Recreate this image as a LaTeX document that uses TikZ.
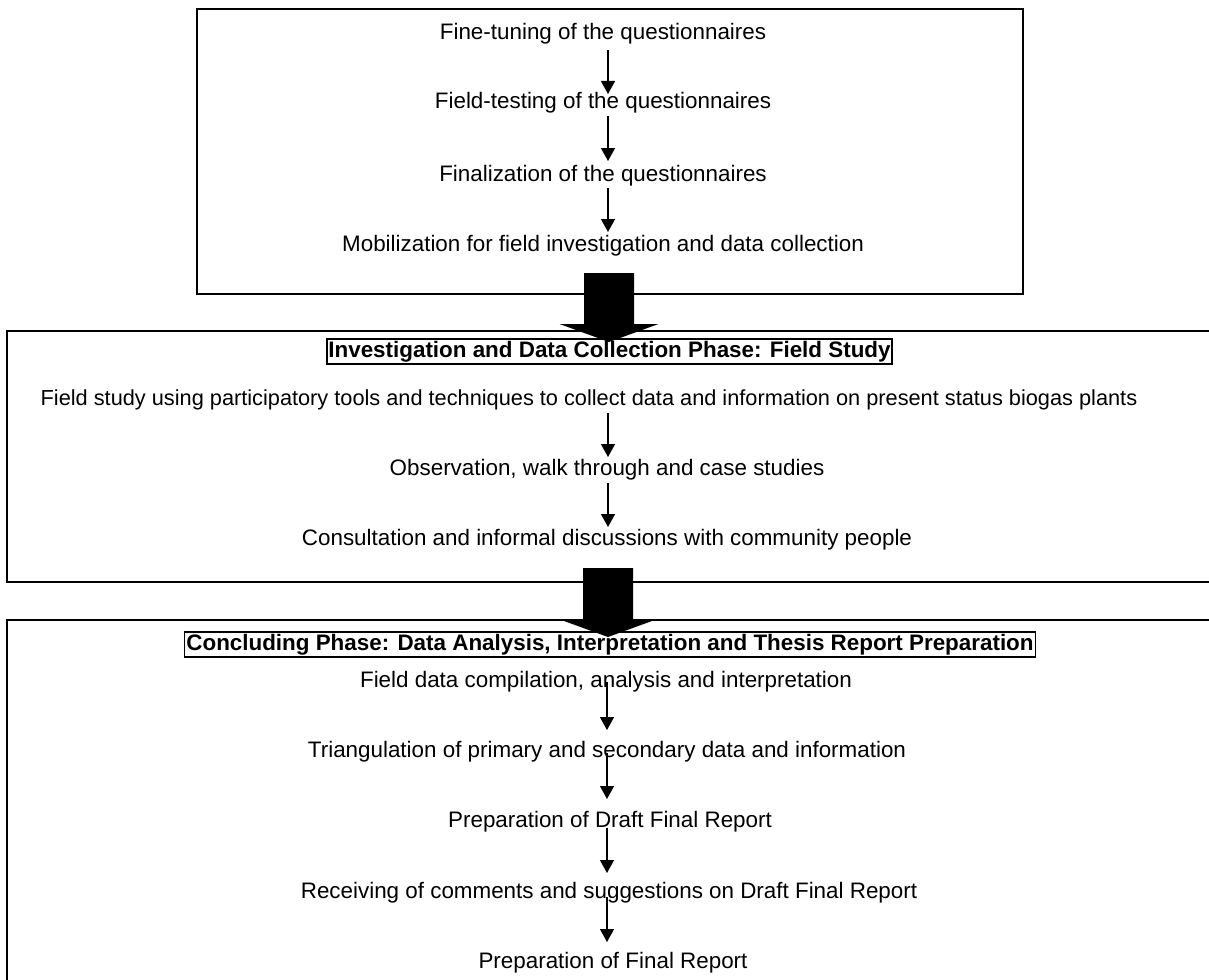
\documentclass[tikz,border=0pt]{standalone}
\usepackage{fontspec}
\setmainfont{Liberation Sans}
\usetikzlibrary{arrows.meta,calc}
\begin{document}
\begin{tikzpicture}[x=1pt,y=-1pt,
  txt/.style={anchor=base,inner sep=0pt,font=\fontsize{22.4}{27}\selectfont},
  hdr/.style={anchor=base,draw,line width=1.2pt,inner sep=1.5pt,font=\fontsize{22.4}{27}\selectfont\bfseries,text height=16.5pt,text depth=5.5pt},
  frame/.style={draw,line width=1.7pt,inner sep=0pt},
  arr/.style={line width=1.3pt,-{Triangle[width=14pt,length=13pt]}},
  bigarrow/.pic={\fill[black] (-25,0) -- (25,0) -- (25,51) -- (49.5,51) -- (0,69) -- (-49.5,51) -- (-25,51) -- cycle;}]
\useasboundingbox (0,0) rectangle (1209,979);
\clip (0,0) rectangle (1209,979);
\fill[white] (0,0) rectangle (1209,979);
% frames
\node[frame,minimum width=826pt,minimum height=285pt] (topbox) at (610,151.5) {};
\node[frame,minimum width=1230pt,minimum height=251pt] (midbox) at (622,456.5) {};
\node[frame,minimum width=1230pt,minimum height=400pt] (botbox) at (622,820) {};
% arrow columns
\coordinate (ax) at (608,0);
\coordinate (bx) at (607,0);
% top box texts
\node[txt] (t1) at (603,40) {Fine-tuning of the questionnaires};
\node[txt] (t2) at (603,109) {Field-testing of the questionnaires};
\node[txt] (t3) at (603,181) {Finalization of the questionnaires};
\node[txt] (t4) at (603,251) {Mobilization for field investigation and data collection};
\draw[arr] ($(t1.base -| ax)+(0,10)$) -- ($(t2.base -| ax)+(0,-15)$);
\draw[arr] ($(t2.base -| ax)+(0,7)$) -- ($(t3.base -| ax)+(0,-20)$);
\draw[arr] ($(t3.base -| ax)+(0,7)$) -- ($(t4.base -| ax)+(0,-19)$);
% middle box texts
\node[hdr] (h1) at (609.5,357) {Investigation and Data Collection Phase: Field Study};
\node[txt,font=\fontsize{21.75}{26}\selectfont] (m1) at (589,405) {Field study using participatory tools and techniques to collect data and information on present status biogas plants};
\node[txt] (m2) at (607,475) {Observation, walk through and case studies};
\node[txt] (m3) at (607,545) {Consultation and informal discussions with community people};
\draw[arr] ($(m1.base -| ax)+(0,8)$) -- ($(m2.base -| ax)+(0,-18)$);
\draw[arr] ($(m2.base -| ax)+(0,8)$) -- ($(m3.base -| ax)+(0,-18)$);
% bottom box texts
\node[hdr] (h2) at (610,650) {Concluding Phase: Data Analysis, Interpretation and Thesis Report Preparation};
\node[txt] (b1) at (606,687) {Field data compilation, analysis and interpretation};
\node[txt] (b2) at (607,757) {Triangulation of primary and secondary data and information};
\node[txt] (b3) at (610,827) {Preparation of Draft Final Report};
\node[txt] (b4) at (609,898) {Receiving of comments and suggestions on Draft Final Report};
\node[txt] (b5) at (613,968) {Preparation of Final Report};
\draw[arr] ($(b1.base -| bx)+(0,-5)$) -- ($(b2.base -| bx)+(0,-27)$);
\draw[arr] ($(b2.base -| bx)+(0,-4)$) -- ($(b3.base -| bx)+(0,-28)$);
\draw[arr] ($(b3.base -| bx)+(0,1)$) -- ($(b4.base -| bx)+(0,-25)$);
\draw[arr] ($(b4.base -| bx)+(0,-1)$) -- ($(b5.base -| bx)+(0,-26)$);
% big block arrows between phases
\coordinate (ba1) at (609,273);
\coordinate (ba2) at (608,568);
\pic at (ba1) {bigarrow};
\pic at (ba2) {bigarrow};
\end{tikzpicture}
\end{document}
